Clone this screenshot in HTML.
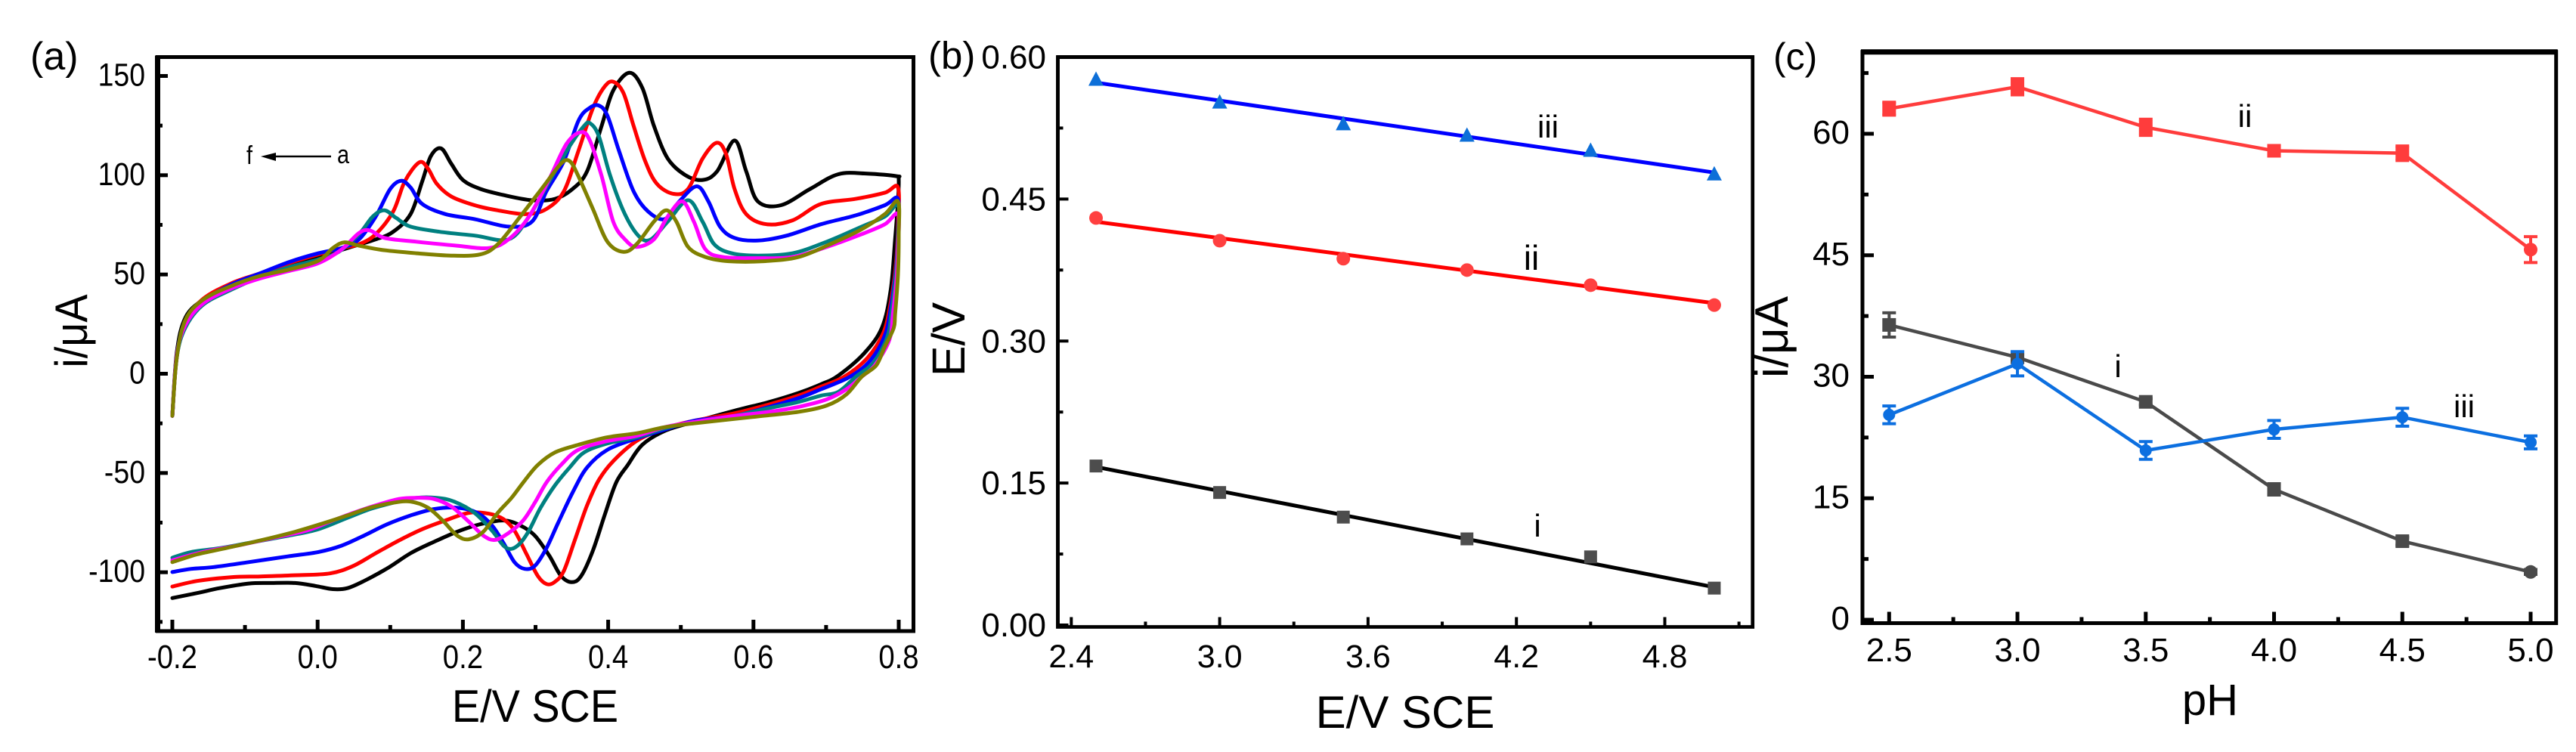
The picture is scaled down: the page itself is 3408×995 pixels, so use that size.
<!DOCTYPE html>
<html lang="en">
<head>
<meta charset="utf-8">
<title>Cyclic voltammetry figure</title>
<style>
html,body{margin:0;padding:0;background:#fff;}
svg{display:block;font-family:"Liberation Sans",Arial,sans-serif;}
text{fill:#000;}
</style>
</head>
<body>
<svg id="fig" xmlns="http://www.w3.org/2000/svg" width="3408" height="995" viewBox="0 0 3408 995">
<rect x="0" y="0" width="3408" height="995" fill="#fff"/>
<g id="panelA"></g>
<g id="panelB"></g>
<g id="panelC"></g>

<text x="40" y="92" font-size="52">(a)</text>
<text x="1228" y="91" font-size="51">(b)</text>
<text x="2346" y="92" font-size="50">(c)</text>

<text transform="translate(708 955) scale(0.93 1)" font-size="60" text-anchor="middle">E/V SCE</text>
<text transform="translate(115 438) rotate(-90) scale(0.93 1)" font-size="60" text-anchor="middle">i/μA</text>
<text x="1859" y="963" font-size="60" text-anchor="middle">E/V SCE</text>
<text transform="translate(1276 449) rotate(-90)" font-size="61" text-anchor="middle">E/V</text>
<text x="2924" y="946" font-size="58" text-anchor="middle">pH</text>
<text transform="translate(2365 446) rotate(-90)" font-size="62" text-anchor="middle">i/μA</text>

<text transform="translate(326 217) scale(0.85 1)" font-size="34">f</text>
<line x1="355" y1="207" x2="438" y2="207" stroke="#000" stroke-width="2.5"/>
<polygon points="345,207 365,202 365,213" fill="#000"/>
<text transform="translate(446 216) scale(0.85 1)" font-size="34">a</text>

<text x="2048" y="182" font-size="42" text-anchor="middle">iii</text>
<text x="2026" y="357" font-size="46" text-anchor="middle">ii</text>
<text x="2034" y="710" font-size="42" text-anchor="middle">i</text>
<text x="2970" y="168" font-size="42" text-anchor="middle">ii</text>
<text x="2802" y="499" font-size="42" text-anchor="middle">i</text>
<text x="3260" y="552" font-size="42" text-anchor="middle">iii</text>
</svg>

<script>
// ---------- Panel (a): cyclic voltammograms, [E volts, i microamps] ----------
const cvBlack = [[-0.2,-21.2],[-0.194,10.5],[-0.182,28.3],[-0.158,37.2],[-0.119,44.9],[-0.079,49.9],[-0.039,55],[0.001,58.8],[0.041,63.3],[0.08,67.7],[0.104,71.5],[0.128,80.4],[0.144,96.9],[0.156,109.7],[0.17,113.5],[0.184,105.8],[0.2,97.6],[0.224,93.1],[0.256,90],[0.295,87.4],[0.327,88.1],[0.351,93.1],[0.371,102],[0.391,124.9],[0.407,142.7],[0.429,151.6],[0.447,144],[0.463,124.9],[0.482,108.4],[0.506,100.1],[0.53,97.6],[0.55,102],[0.574,117.5],[0.59,102],[0.606,86.8],[0.638,84.9],[0.678,93.1],[0.717,100.5],[0.757,100.8],[0.797,99.5],[0.8,98],
[0.799,86.8],[0.795,67.7],[0.789,42.3],[0.777,23.3],[0.753,10.5],[0.717,-0.9],[0.693,-5.3],[0.662,-9.7],[0.622,-14.2],[0.574,-18.6],[0.518,-24.3],[0.478,-28.8],[0.447,-35.8],[0.427,-46],[0.411,-54.8],[0.395,-71.4],[0.379,-89.1],[0.363,-101.8],[0.35,-105],[0.335,-101.8],[0.319,-91.7],[0.299,-81.5],[0.279,-76.4],[0.256,-73.9],[0.224,-75.8],[0.192,-79.6],[0.16,-84.7],[0.128,-90.4],[0.096,-98],[0.064,-104.4],[0.041,-108],[0.021,-108.5],[-0.003,-106.9],[-0.031,-105.4],[-0.063,-105.4],[-0.095,-105.7],[-0.135,-108],[-0.166,-110.5],[-0.2,-113]];

const cvRed = [[-0.2,-21.2],[-0.194,8],[-0.182,26.2],[-0.158,37.6],[-0.119,45.5],[-0.079,50.6],[-0.039,55.7],[0.001,60.1],[0.033,63.3],[0.057,65.2],[0.08,70.3],[0.104,81.7],[0.12,96.9],[0.14,106.5],[0.152,103.3],[0.164,95.7],[0.184,89.3],[0.216,84.9],[0.248,82.3],[0.287,80.4],[0.315,83],[0.339,91.9],[0.359,112.2],[0.379,133.8],[0.395,144.6],[0.407,147.1],[0.421,141.4],[0.435,124.9],[0.451,107.1],[0.467,95.7],[0.49,90.6],[0.51,93.1],[0.53,108.4],[0.549,116.3],[0.562,110.9],[0.574,93.1],[0.59,80.4],[0.618,75.3],[0.654,77.3],[0.693,85.5],[0.741,88.1],[0.781,91.2],[0.799,93.8],
[0.799,74.1],[0.796,55],[0.789,36],[0.779,20.7],[0.757,8],[0.725,-1.5],[0.693,-6.5],[0.662,-11],[0.622,-15.4],[0.574,-19.9],[0.518,-23.7],[0.478,-27.5],[0.439,-33.9],[0.407,-44],[0.387,-53.6],[0.371,-66.3],[0.355,-82.8],[0.339,-99.3],[0.326,-105],[0.315,-105.9],[0.303,-101.8],[0.287,-90.4],[0.271,-79],[0.256,-73.3],[0.236,-70.5],[0.208,-70.1],[0.176,-73.9],[0.144,-78.3],[0.112,-84],[0.08,-90.4],[0.049,-96.8],[0.017,-100.6],[-0.031,-101.5],[-0.079,-102.1],[-0.119,-102.5],[-0.166,-104.4],[-0.2,-107.2]];

const cvBlue = [[-0.2,-21.2],[-0.194,9],[-0.182,26],[-0.158,36.5],[-0.119,44.9],[-0.079,50.6],[-0.039,56.3],[0.001,60.7],[0.033,63.3],[0.057,67.7],[0.08,79.2],[0.1,93.1],[0.115,97.2],[0.128,93.8],[0.144,85.5],[0.176,80.4],[0.216,77.9],[0.263,74.1],[0.295,76.6],[0.315,91.9],[0.339,107.1],[0.359,127.4],[0.374,133.8],[0.387,135.1],[0.399,130],[0.415,112.2],[0.435,91.9],[0.455,81.7],[0.478,77.9],[0.498,86.8],[0.522,94.4],[0.538,86.8],[0.554,74.1],[0.574,68.4],[0.606,67.1],[0.646,69.6],[0.693,75.3],[0.741,79.8],[0.781,84.9],[0.799,88],
[0.799,70],[0.796,52],[0.789,33],[0.781,19.4],[0.761,6.7],[0.733,-1.5],[0.693,-7.8],[0.662,-12.3],[0.622,-16.7],[0.574,-21.2],[0.518,-23.7],[0.478,-28.1],[0.439,-32.6],[0.399,-38.3],[0.371,-47.2],[0.351,-59.9],[0.331,-75.2],[0.315,-87.9],[0.299,-96.8],[0.285,-98.3],[0.271,-94.9],[0.256,-85.3],[0.24,-76.4],[0.22,-70.1],[0.192,-67.5],[0.16,-68.2],[0.128,-71.4],[0.096,-75.8],[0.064,-81.5],[0.033,-86.6],[0.001,-89.8],[-0.039,-91.9],[-0.095,-94.9],[-0.143,-97.4],[-0.174,-98.3],[-0.2,-99.9]];

const cvTeal = [[-0.2,-21.2],[-0.194,8],[-0.182,23.3],[-0.158,34.7],[-0.119,42.3],[-0.079,48.7],[-0.039,53.7],[0.001,57.6],[0.029,61.4],[0.057,70.3],[0.076,79.2],[0.092,82.3],[0.108,78.5],[0.128,74.1],[0.168,71.5],[0.216,69.6],[0.263,67.7],[0.291,79.2],[0.319,96.9],[0.347,114.7],[0.367,124.9],[0.375,126.2],[0.387,119.8],[0.403,99.5],[0.423,80.4],[0.443,69],[0.459,67.7],[0.482,76.6],[0.51,87.4],[0.53,76.6],[0.546,65.2],[0.57,60.7],[0.606,59.5],[0.654,60.7],[0.701,66.5],[0.749,74.1],[0.781,79.2],[0.799,84.9],
[0.799,68],[0.796,50],[0.79,31],[0.784,18.2],[0.765,5.5],[0.741,-1.5],[0.717,-9.1],[0.693,-11],[0.662,-14.2],[0.622,-17.3],[0.574,-21.2],[0.518,-24.3],[0.478,-27.5],[0.439,-32],[0.399,-35.1],[0.367,-39.6],[0.347,-47.2],[0.327,-56.1],[0.307,-67.5],[0.291,-79],[0.279,-85.3],[0.267,-88.2],[0.256,-86.6],[0.24,-79],[0.216,-70.1],[0.188,-64.4],[0.164,-62.5],[0.136,-62.5],[0.104,-65],[0.072,-68.2],[0.041,-72.6],[0.001,-78.3],[-0.039,-81.5],[-0.087,-84.7],[-0.135,-87.9],[-0.174,-89.8],[-0.2,-92.7]];

const cvMagenta = [[-0.2,-21.2],[-0.194,9],[-0.182,24.5],[-0.158,35.3],[-0.119,42.9],[-0.079,48],[-0.039,51.8],[0.001,55.7],[0.033,62.6],[0.057,70.9],[0.072,72.2],[0.092,68.4],[0.136,66.5],[0.192,64.5],[0.236,63.3],[0.263,67.7],[0.291,79.2],[0.319,98.2],[0.343,116],[0.363,121.7],[0.375,117.3],[0.391,99.5],[0.407,76.6],[0.423,67.7],[0.439,63.9],[0.463,67.7],[0.482,79.2],[0.502,86.8],[0.518,76.6],[0.534,62.6],[0.558,58.8],[0.606,58.2],[0.654,58.8],[0.701,63.9],[0.749,70.3],[0.781,75.3],[0.799,80.4],
[0.799,64],[0.797,48],[0.792,30],[0.787,16.9],[0.767,4.2],[0.749,-1.5],[0.728,-7.8],[0.701,-12.9],[0.662,-16.7],[0.622,-19.2],[0.574,-21.2],[0.518,-24.3],[0.478,-26.9],[0.439,-31.3],[0.399,-33.9],[0.359,-38.3],[0.335,-46],[0.315,-54.8],[0.299,-65],[0.283,-73.9],[0.263,-80.2],[0.244,-83.7],[0.228,-81.5],[0.208,-74.5],[0.184,-66.9],[0.16,-63.1],[0.136,-62.5],[0.112,-63.1],[0.08,-66.3],[0.049,-70.1],[0.017,-74.5],[-0.015,-79],[-0.063,-82.8],[-0.111,-86.6],[-0.158,-89.8],[-0.2,-94]];

const cvOlive = [[-0.2,-21.2],[-0.194,8],[-0.182,27.1],[-0.158,37.2],[-0.119,44.2],[-0.079,49.3],[-0.039,52.5],[0.001,56.9],[0.021,63.3],[0.037,66.2],[0.057,64.5],[0.088,62.4],[0.136,60.7],[0.184,59.5],[0.224,60.1],[0.248,65.2],[0.279,79.2],[0.311,94.4],[0.335,105.8],[0.347,107.1],[0.359,99.5],[0.379,83],[0.399,66.5],[0.421,61.4],[0.439,65.2],[0.463,76.6],[0.48,82.3],[0.494,76.6],[0.51,63.9],[0.534,58.8],[0.566,56.7],[0.614,56.7],[0.662,58.8],[0.709,65.8],[0.749,72.8],[0.781,80.4],[0.799,86.8],
[0.8,70],[0.799,50],[0.795,30],[0.793,23],[0.78,13],[0.769,4.2],[0.749,-1.5],[0.728,-10.4],[0.701,-16],[0.662,-19.2],[0.598,-21.8],[0.518,-25],[0.478,-26.9],[0.439,-30],[0.399,-32],[0.359,-35.8],[0.327,-39.6],[0.303,-46],[0.283,-54.8],[0.267,-62.5],[0.248,-70.1],[0.228,-79.6],[0.208,-83.4],[0.192,-81.5],[0.172,-73.9],[0.152,-67.5],[0.128,-64.4],[0.104,-65],[0.072,-67.5],[0.041,-71.4],[0.009,-75.2],[-0.031,-79.6],[-0.079,-84],[-0.127,-87.9],[-0.166,-91],[-0.2,-94.9]];

const aXTicks = ['-0.2','0.0','0.2','0.4','0.6','0.8'];
const aYTicks = ['-100','-50','0','50','100','150'];

// ---------- Panel (b): peak potential vs value ----------
const bCategories = [2.5,3.0,3.5,4.0,4.5,5.0];
const bSeriesI = [0.168,0.140,0.114,0.091,0.072,0.039];
const bSeriesII = [0.430,0.406,0.387,0.375,0.359,0.338];
const bSeriesIII = [0.576,0.552,0.529,0.517,0.501,0.476];
const bFitI = [0.167,0.040];
const bFitII = [0.426,0.340];
const bFitIII = [0.573,0.478];
const bXTicks = ['2.4','3.0','3.6','4.2','4.8'];
const bYTicks = ['0.00','0.15','0.30','0.45','0.60'];

// ---------- Panel (c): current vs pH ----------
const cCategories = [2.5,3.0,3.5,4.0,4.5,5.0];
const cSeriesI = [36.4,32.4,26.9,16.1,9.7,5.9];
const cErrorI = [1.5,0.4,0.4,0.7,0.5,0.3];
const cSeriesII = [63.1,65.8,60.8,57.9,57.6,45.7];
const cErrorII = [0.8,1.0,1.0,0.6,0.9,1.6];
const cSeriesIII = [25.3,31.6,20.9,23.5,25.0,21.9];
const cErrorIII = [1.1,1.5,1.1,1.1,1.1,0.8];
const cXTicks = ['2.5','3.0','3.5','4.0','4.5','5.0'];
const cYTicks = ['0','15','30','45','60'];

const NS = 'http://www.w3.org/2000/svg';
function mk(parent, tag, attrs, txt) {
  const el = document.createElementNS(NS, tag);
  for (const k in attrs) el.setAttribute(k, attrs[k]);
  if (txt !== undefined) el.textContent = txt;
  parent.appendChild(el);
  return el;
}
function linear(d0, d1, r0, r1) {
  return function (v) { return r0 + (v - d0) * (r1 - r0) / (d1 - d0); };
}
function smoothPath(pts) {
  let d = 'M' + pts[0][0].toFixed(1) + ' ' + pts[0][1].toFixed(1);
  for (let i = 0; i < pts.length - 1; i++) {
    const p0 = pts[Math.max(i - 1, 0)], p1 = pts[i], p2 = pts[i + 1], p3 = pts[Math.min(i + 2, pts.length - 1)];
    const c1x = p1[0] + (p2[0] - p0[0]) / 6, c1y = p1[1] + (p2[1] - p0[1]) / 6;
    const c2x = p2[0] - (p3[0] - p1[0]) / 6, c2y = p2[1] - (p3[1] - p1[1]) / 6;
    d += 'C' + c1x.toFixed(1) + ' ' + c1y.toFixed(1) + ' ' + c2x.toFixed(1) + ' ' + c2y.toFixed(1) + ' ' + p2[0].toFixed(1) + ' ' + p2[1].toFixed(1);
  }
  return d;
}

function drawAxes(g, prefix, o) {
  const frame = mk(g, 'rect', {x:o.left, y:o.top, width:o.right-o.left, height:o.bottom-o.top, fill:'none', stroke:'#000', 'stroke-width':o.frameW});
  
  
  const sideL = mk(g, 'line', {x1:o.left, x2:o.left, y1:o.top-2, y2:o.bottom+2, stroke:'#000', 'stroke-width':o.leftW});
  
  
  const sideT = mk(g, 'line', {x1:o.left-2, x2:o.right+2, y1:o.top, y2:o.top, stroke:'#000', 'stroke-width':o.topW});
  
  
  o.xLabels.forEach(function (lab) {
    const v = parseFloat(lab), x = o.xs(v);
    const t = mk(g, 'line', {x1:x, x2:x, y1:o.bottom, y2:o.bottom-o.xMajor, stroke:'#000', 'stroke-width':o.tickW});
    
    
    const l = mk(g, 'text', {transform:'translate(' + x + ' ' + o.xLabelY + ') scale(' + o.textScale + ' 1)', 'font-size':o.xFont, 'text-anchor':'middle'}, lab);
    
    
  });
  o.xMinorVals.forEach(function (v) {
    const x = o.xs(v);
    const t = mk(g, 'line', {x1:x, x2:x, y1:o.bottom, y2:o.bottom-o.xMinor, stroke:'#000', 'stroke-width':o.tickW});
    
    
  });
  o.yLabels.forEach(function (lab) {
    const v = parseFloat(lab), y = o.ys(v);
    const t = mk(g, 'line', {x1:o.left, x2:o.left+o.yMajor, y1:y, y2:y, stroke:'#000', 'stroke-width':o.tickW});
    
    
    const l = mk(g, 'text', {transform:'translate(' + o.yLabelX + ' ' + (y + o.yBase) + ') scale(' + o.textScale + ' 1)', 'font-size':o.yFont, 'text-anchor':'end'}, lab);
    
    
  });
  o.yMinorVals.forEach(function (v) {
    const y = o.ys(v);
    const t = mk(g, 'line', {x1:o.left, x2:o.left+o.yMinor, y1:y, y2:y, stroke:'#000', 'stroke-width':o.tickW});
    
    
  });
}

// ---- Panel A ----
(function () {
  const g = document.getElementById('panelA');
  const xs = linear(0, 0.8, 420.2, 1189);
  const ys = linear(0, 150, 494.5, 100.5);
  drawAxes(g, 'panel-a', {left:208.5, right:1208.5, top:75.5, bottom:835, frameW:5, leftW:7, topW:5, tickW:5, xs:xs, ys:ys,
    xLabels:aXTicks, xMinorVals:[-0.1,0.1,0.3,0.5,0.7], yLabels:aYTicks, yMinorVals:[-125,-75,-25,25,75,125],
    xMajor:15, xMinor:8, yMajor:13.5, yMinor:6.5, xFont:44, yFont:43, xLabelY:884, yLabelX:192, yBase:13, textScale:0.87});
  const list = [[cvBlack,'#000000','cv-curve-black'],[cvRed,'#ff0000','cv-curve-red'],[cvBlue,'#0000ff','cv-curve-blue'],[cvTeal,'#008080','cv-curve-teal'],[cvMagenta,'#ff00ff','cv-curve-magenta'],[cvOlive,'#808000','cv-curve-olive']];
  list.forEach(function (s) {
    const pts = s[0].map(function (p) { return [xs(p[0]), ys(p[1])]; });
    const path = mk(g, 'path', {d:smoothPath(pts), fill:'none', stroke:s[1], 'stroke-width':5, 'stroke-linejoin':'round', 'stroke-linecap':'round'});
    
    
  });
})();

// ---- Panel B ----
(function () {
  const g = document.getElementById('panelB');
  const xs = linear(2.4, 4.8, 1417.3, 2202.5);
  const ys = linear(0, 0.6, 827, 75.5);
  drawAxes(g, 'panel-b', {left:1399.5, right:2318.7, top:75.5, bottom:829.5, frameW:4.7, leftW:4.7, topW:5, tickW:4, xs:xs, ys:ys,
    xLabels:bXTicks, xMinorVals:[2.7,3.3,3.9,4.5,5.1], yLabels:bYTicks, yMinorVals:[0.075,0.225,0.375,0.525],
    xMajor:13, xMinor:7, yMajor:14, yMinor:7, xFont:43, yFont:44, xLabelY:883, yLabelX:1384, yBase:15, textScale:1});
  const fits = [[bFitI,'#000000','fit-line-i'],[bFitII,'#ff0000','fit-line-ii'],[bFitIII,'#0000ff','fit-line-iii']];
  fits.forEach(function (f) {
    const cats = [bCategories[0], bCategories[bCategories.length-1]];
    const l = mk(g, 'line', {x1:xs(cats[0]), y1:ys(f[0][0]), x2:xs(cats[1]), y2:ys(f[0][1]), stroke:f[1], 'stroke-width':5});
    
    
  });
  bCategories.forEach(function (c, i) {
    const x = xs(c);
    const a = mk(g, 'rect', {x:x-8.5, y:ys(bSeriesI[i])-8.5, width:17, height:17, fill:'#4d4d4d'});
    
    
    const b = mk(g, 'circle', {cx:x, cy:ys(bSeriesII[i]), r:9, fill:'#ff4040'});
    
    
    const y3 = ys(bSeriesIII[i]);
    const d = mk(g, 'polygon', {points:(x-10)+','+(y3+8)+' '+(x+10)+','+(y3+8)+' '+x+','+(y3-11), fill:'#0d6fd8'});
    
    
  });
})();

// ---- Panel C ----
(function () {
  const g = document.getElementById('panelC');
  const xs = linear(2.5, 5.0, 2499.3, 3348);
  const ys = linear(0, 60, 820, 177);
  drawAxes(g, 'panel-c', {left:2464, right:3381.7, top:68.7, bottom:824.5, frameW:5, leftW:5, topW:7, tickW:5, xs:xs, ys:ys,
    xLabels:cXTicks, xMinorVals:[2.75,3.25,3.75,4.25,4.75], yLabels:cYTicks, yMinorVals:[7.5,22.5,37.5,52.5,67.5],
    xMajor:15, xMinor:8, yMajor:15, yMinor:8, xFont:44, yFont:44, xLabelY:875, yLabelX:2447, yBase:13, textScale:1});
  const series = [[cSeriesI,cErrorI,'#4a4a4a','series-i'],[cSeriesII,cErrorII,'#ff3c3c','series-ii'],[cSeriesIII,cErrorIII,'#0c6fe0','series-iii']];
  series.forEach(function (s) {
    const pts = cCategories.map(function (c, i) { return xs(c) + ',' + ys(s[0][i]); }).join(' ');
    const l = mk(g, 'polyline', {points:pts, fill:'none', stroke:s[2], 'stroke-width':4.5});
    
    
    cCategories.forEach(function (c, i) {
      const x = xs(c), y = ys(s[0][i]), hi = ys(s[0][i] + s[1][i]), lo = ys(s[0][i] - s[1][i]);
      const e = mk(g, 'path', {d:'M'+(x-9)+' '+hi+'H'+(x+9)+'M'+x+' '+hi+'V'+lo+'M'+(x-9)+' '+lo+'H'+(x+9), fill:'none', stroke:s[2], 'stroke-width':4});
      
      
      const r = s[3] === 'series-iii' ? 8 : 9;
      const m = (i === cCategories.length - 1 || s[3] === 'series-iii')
        ? mk(g, 'circle', {cx:x, cy:y, r:r, fill:s[2]})
        : mk(g, 'rect', {x:x-r, y:y-r, width:2*r, height:2*r, fill:s[2]});
      
      
    });
  });
})();
</script>
</body>
</html>
